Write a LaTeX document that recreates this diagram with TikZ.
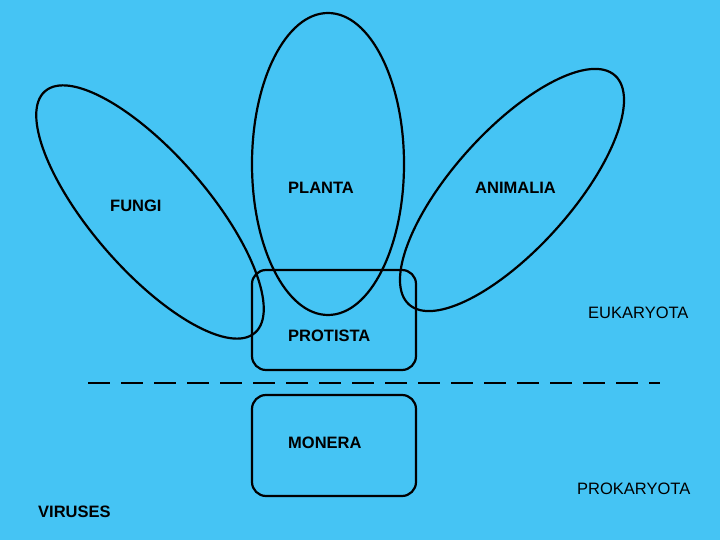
\documentclass[tikz,border=0pt]{standalone}
\usepackage{fontspec}
\setmainfont{Liberation Sans}
\definecolor{bg}{HTML}{45C4F4}
\begin{document}
\begin{tikzpicture}[x=1pt,y=1pt,
  shp/.style={draw=black,line width=2.2pt},
  lbl/.style={font=\fontsize{16.5}{18}\selectfont,anchor=west,inner sep=0pt},
  blbl/.style={lbl,font=\fontsize{16.5}{18}\selectfont\bfseries}]
\fill[bg] (0,0) rectangle (720,540);
\useasboundingbox (0,0) rectangle (720,540);
\draw[shp,rounded corners=14pt] (252,270) rectangle (416,170);
\draw[shp,rounded corners=14pt] (252,145) rectangle (416,44);
\draw[shp] (150,328) ellipse[x radius=160,y radius=58,rotate=-49];
\draw[shp] (328,376) ellipse[x radius=76,y radius=151];
\draw[shp] (512,350) ellipse[x radius=154,y radius=59,rotate=48];
\draw[line width=2.6pt,dash pattern=on 22pt off 11pt] (88,157) coordinate (d1) -- (660,157) coordinate (d2);
\node[blbl] (fungi) at (110,334) {FUNGI};
\node[blbl] (planta) at (288,352) {PLANTA};
\node[blbl] (animalia) at (475,352) {ANIMALIA};
\node[lbl] (euk) at (588,227) {EUKARYOTA};
\node[blbl] (protista) at (288,204) {PROTISTA};
\node[blbl] (monera) at (288,97) {MONERA};
\node[lbl] (prok) at (577,51) {PROKARYOTA};
\node[blbl] (vir) at (38,28) {VIRUSES};
\end{tikzpicture}
\end{document}
